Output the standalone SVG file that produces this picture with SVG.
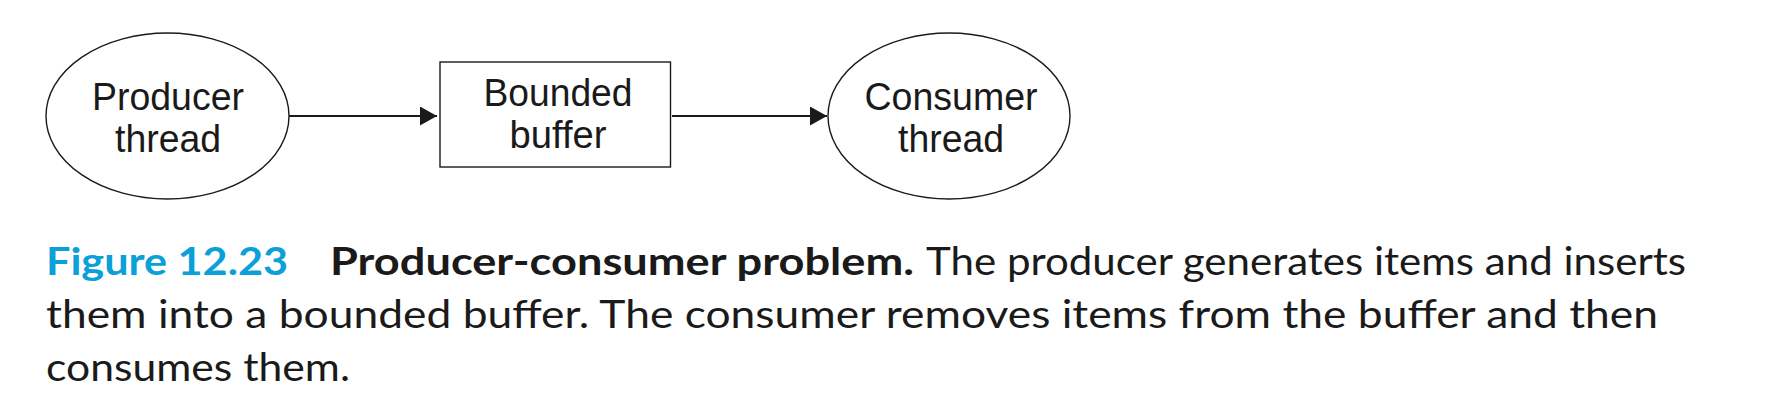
<svg xmlns="http://www.w3.org/2000/svg" width="1774" height="416" viewBox="0 0 1774 416">
<style>
.node{fill:#fff;stroke:#1a1a1a;stroke-width:1.4}
.lbl{font-family:"Liberation Sans",Arial,sans-serif;font-size:38px;fill:#1a1a1a;text-anchor:middle}
.conn{stroke:#1a1a1a;stroke-width:2.2;fill:none}
.cap{font-family:Lato,"Open Sans",sans-serif;font-size:38px;fill:#1a1a1a}
</style>
<defs>
<marker id="arr" markerWidth="17" markerHeight="19" refX="17" refY="9.5" orient="auto" markerUnits="userSpaceOnUse">
<path d="M0,0 L17,9.5 L0,19 z" fill="#1a1a1a"/>
</marker>
</defs>
<rect width="1774" height="416" fill="#fff"/>
<g id="producer">
<ellipse class="node" cx="167.5" cy="116" rx="121.5" ry="83"/>
<text class="lbl" x="168" y="110" textLength="152" lengthAdjust="spacingAndGlyphs">Producer</text>
<text class="lbl" x="168" y="152" textLength="106" lengthAdjust="spacingAndGlyphs">thread</text>
</g>
<g id="buffer">
<rect class="node" x="440" y="62" width="230.5" height="105"/>
<text class="lbl" x="558" y="106" textLength="149" lengthAdjust="spacingAndGlyphs">Bounded</text>
<text class="lbl" x="558" y="148" textLength="97" lengthAdjust="spacingAndGlyphs">buffer</text>
</g>
<g id="consumer">
<ellipse class="node" cx="949" cy="116" rx="121" ry="83"/>
<text class="lbl" x="951" y="110" textLength="173" lengthAdjust="spacingAndGlyphs">Consumer</text>
<text class="lbl" x="951" y="152" textLength="106" lengthAdjust="spacingAndGlyphs">thread</text>
</g>
<g id="connectors">
<line class="conn" x1="289" y1="116" x2="437" y2="116" marker-end="url(#arr)"/>
<line class="conn" x1="672" y1="116" x2="827" y2="116" marker-end="url(#arr)"/>
</g>
<g id="caption">
<text class="cap" x="46" y="275" style="fill:#0aa0d8;font-weight:bold" textLength="242" lengthAdjust="spacingAndGlyphs">Figure 12.23</text>
<text class="cap" x="330" y="275" style="font-weight:bold" textLength="584" lengthAdjust="spacingAndGlyphs">Producer-consumer problem.</text>
<text class="cap" x="926" y="275" textLength="760" lengthAdjust="spacingAndGlyphs">The producer generates items and inserts</text>
<text class="cap" x="46" y="328" textLength="1612" lengthAdjust="spacingAndGlyphs">them into a bounded buffer. The consumer removes items from the buffer and then</text>
<text class="cap" x="46" y="381" textLength="304" lengthAdjust="spacingAndGlyphs">consumes them.</text>
</g>
</svg>
